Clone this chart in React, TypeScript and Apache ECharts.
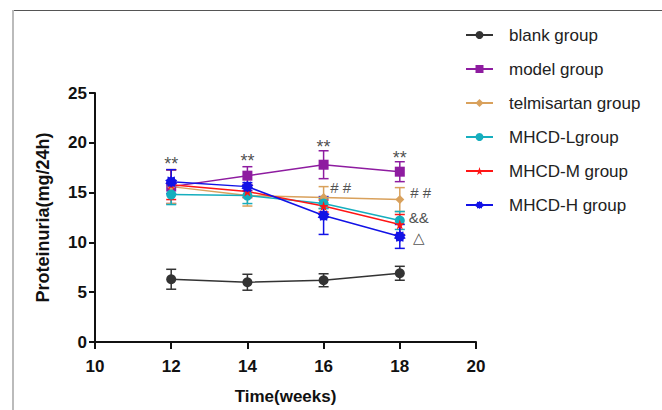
import React, { useEffect, useRef } from "react";
import * as echarts from "echarts";

const weeks = [12, 14, 16, 18];
const groupNames = ["blank group", "model group", "telmisartan group", "MHCD-Lgroup", "MHCD-M group", "MHCD-H group"];
const blankVals = [6.3, 6.0, 6.2, 6.9];
const blankErr = [1.0, 0.8, 0.65, 0.7];
const modelVals = [15.6, 16.7, 17.8, 17.1];
const modelErr = [1.7, 0.9, 1.4, 1.0];
const telmiVals = [15.6, 14.7, 14.5, 14.3];
const telmiErr = [1.7, 1.05, 1.1, 1.2];
const mhcdLVals = [14.8, 14.7, 13.9, 12.2];
const mhcdLErr = [1.0, 0.8, 0.5, 0.9];
const mhcdMVals = [15.8, 15.1, 13.65, 11.8];
const mhcdMErr = [1.5, 0.6, 0.6, 1.0];
const mhcdHVals = [16.1, 15.6, 12.7, 10.6];
const mhcdHErr = [1.2, 0.4, 1.9, 1.2];
const xTicks = { min: 10, max: 20, interval: 2 };
const yTicks = { min: 0, max: 25, interval: 5 };
const annotations: [number, number, string, number][] = [
  [12, 17.9, "**", 18],
  [14, 18.2, "**", 18],
  [16, 19.6, "**", 18],
  [18, 18.5, "**", 18],
  [16.45, 15.5, "# #", 15],
  [18.55, 15.0, "# #", 15],
  [18.5, 12.5, "&&", 15],
  [18.5, 10.5, "△", 15],
];

const STAR = "path://M50,0 L61,35 L98,35 L68,57 L79,91 L50,70 L21,91 L32,57 L2,35 L39,35 Z";
const BURST = "path://M50,0 L60,14 L80,8 L82,28 L100,38 L88,52 L100,66 L82,74 L80,94 L60,88 L50,100 L40,88 L20,94 L18,74 L0,66 L12,52 L0,38 L18,28 L20,8 L40,14 Z";

const styles = [
  { color: "#333333", symbol: "circle", size: 10 },
  { color: "#8E1CA0", symbol: "rect", size: 10 },
  { color: "#D9A15C", symbol: "diamond", size: 9 },
  { color: "#16AEBE", symbol: "circle", size: 10 },
  { color: "#FF1515", symbol: STAR, size: 10 },
  { color: "#1212E6", symbol: BURST, size: 12 },
];

const values = [blankVals, modelVals, telmiVals, mhcdLVals, mhcdMVals, mhcdHVals];
const errors = [blankErr, modelErr, telmiErr, mhcdLErr, mhcdMErr, mhcdHErr];

export default function App() {
  const ref = useRef<HTMLDivElement>(null);
  useEffect(() => {
    document.body.style.margin = "0";
    const chart = echarts.init(ref.current!, null, { renderer: "svg" });
    const font = "Liberation Sans, Arial, sans-serif";
    const series: any[] = [];
    groupNames.forEach((name, i) => {
      const st = styles[i];
      series.push({
        type: "custom",
        name: name + " err",
        silent: true,
        z: 1,
        data: weeks.map((w, j) => [w, values[i][j], errors[i][j]]),
        renderItem: (params: any, api: any) => {
          const x = api.value(0);
          const y = api.value(1);
          const e = api.value(2);
          const top = api.coord([x, y + e]);
          const bot = api.coord([x, y - e]);
          const hw = 5;
          const s = { stroke: st.color, lineWidth: 1.5 };
          return {
            type: "group",
            children: [
              { type: "line", shape: { x1: top[0], y1: top[1], x2: bot[0], y2: bot[1] }, style: s },
              { type: "line", shape: { x1: top[0] - hw, y1: top[1], x2: top[0] + hw, y2: top[1] }, style: s },
              { type: "line", shape: { x1: bot[0] - hw, y1: bot[1], x2: bot[0] + hw, y2: bot[1] }, style: s },
            ],
          };
        },
      });
      series.push({
        type: "line",
        name,
        z: 2,
        data: weeks.map((w, j) => [w, values[i][j]]),
        symbol: st.symbol,
        symbolSize: st.size,
        showAllSymbol: true,
        color: st.color,
        lineStyle: { color: st.color, width: 1.5 },
        itemStyle: { color: st.color },
      });
    });
    series.push({
      type: "scatter",
      name: "annotations",
      silent: true,
      symbolSize: 0,
      z: 5,
      data: annotations.map((a) => ({ value: [a[0], a[1]], label: { formatter: a[2], fontSize: a[3] } })),
      label: {
        show: true,
        position: "inside",
        color: "#222",
        fontFamily: font,
      },
    });

    chart.setOption({
      animation: false,
      backgroundColor: "#ffffff",
      grid: { left: 95, right: 186, top: 93, bottom: 63 },
      legend: {
        data: groupNames,
        orient: "vertical",
        left: 460,
        top: 20,
        itemWidth: 27,
        itemHeight: 10,
        itemGap: 14,
        textStyle: { fontSize: 17, fontFamily: font, color: "#222", lineHeight: 20, padding: [0, 0, 0, 11] },
        selectedMode: false,
      },
      xAxis: {
        type: "value",
        min: xTicks.min,
        max: xTicks.max,
        interval: xTicks.interval,
        name: "Time(weeks)",
        nameLocation: "middle",
        nameGap: 46,
        nameTextStyle: { fontSize: 17, fontWeight: "bold", fontFamily: font, color: "#111" },
        axisLine: { lineStyle: { color: "#111", width: 2 } },
        axisTick: { show: true, length: 7, lineStyle: { color: "#111", width: 2 } },
        axisLabel: { fontSize: 17, fontWeight: "bold", fontFamily: font, color: "#111", margin: 16 },
        splitLine: { show: false },
      },
      yAxis: {
        type: "value",
        min: yTicks.min,
        max: yTicks.max,
        interval: yTicks.interval,
        name: "Proteinuria(mg/24h)",
        nameLocation: "middle",
        nameRotate: 90,
        nameGap: 43,
        nameTextStyle: { fontSize: 18, fontWeight: "bold", fontFamily: font, color: "#111" },
        axisLine: { show: true, lineStyle: { color: "#111", width: 2 } },
        axisTick: { show: true, length: 6, lineStyle: { color: "#111", width: 2 } },
        axisLabel: { fontSize: 17, fontWeight: "bold", fontFamily: font, color: "#111", margin: 8 },
        splitLine: { show: false },
      },
      graphic: [
        { type: "line", shape: { x1: 12, y1: 10.5, x2: 662, y2: 10.5 }, style: { stroke: "#555", lineWidth: 1 } },
        { type: "line", shape: { x1: 13, y1: 10, x2: 13, y2: 410 }, style: { stroke: "#bbb", lineWidth: 2 } },
      ],
      series,
    });
    return () => chart.dispose();
  }, []);
  return <div ref={ref} style={{ width: 662, height: 410 }} />;
}
